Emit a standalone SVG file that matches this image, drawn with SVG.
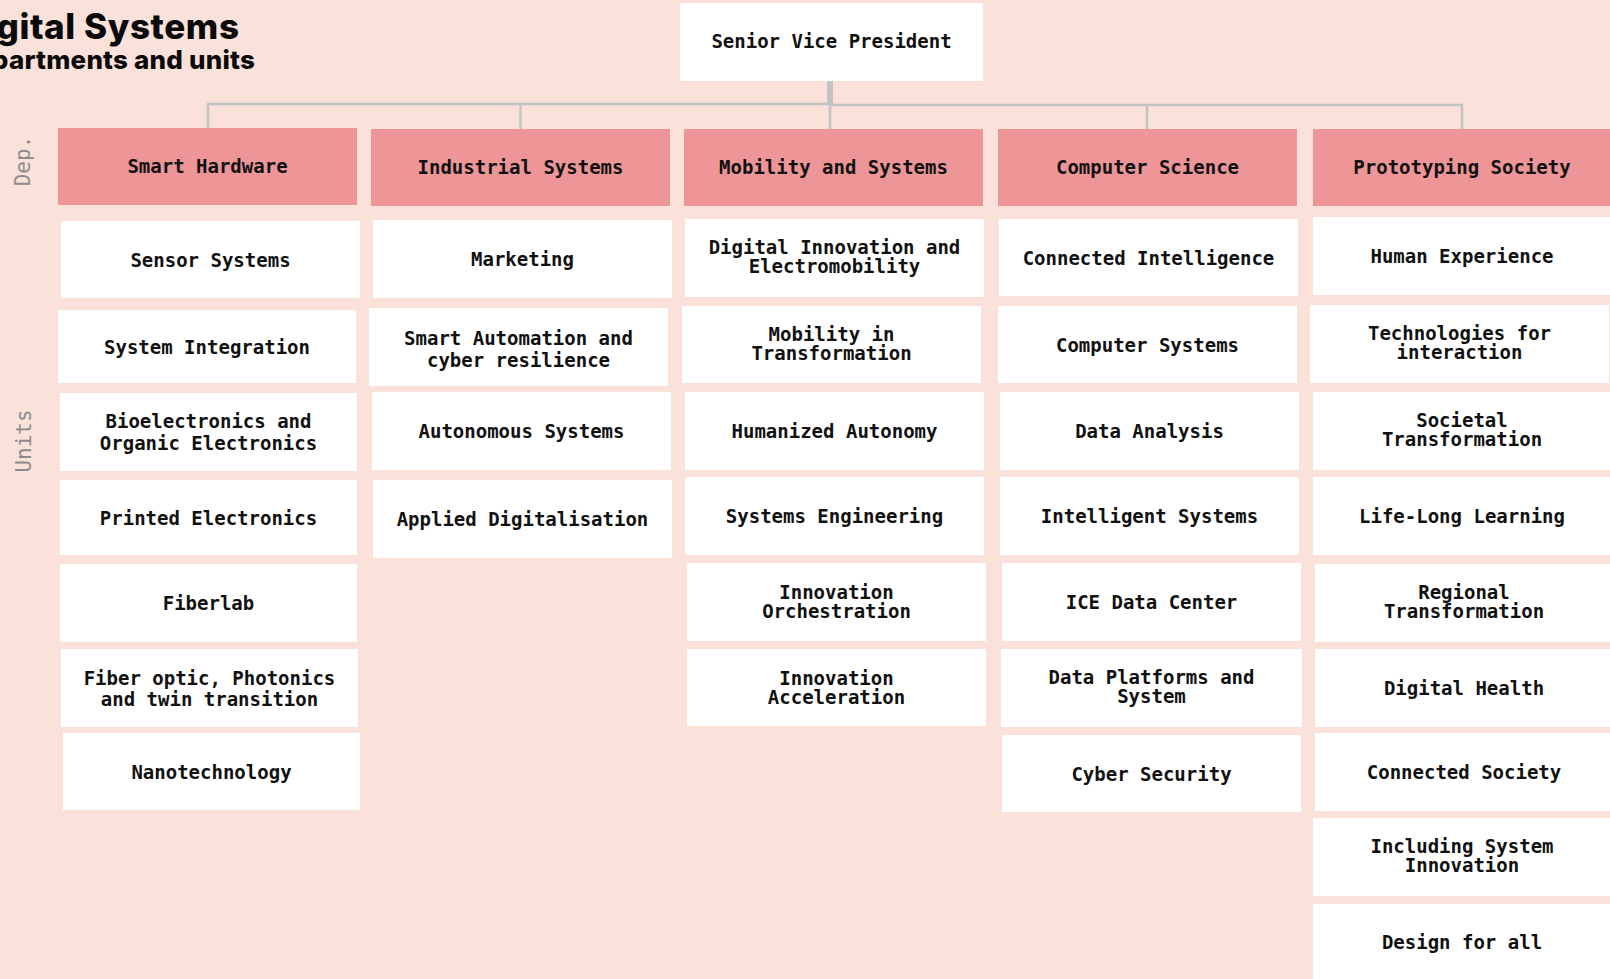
<svg xmlns="http://www.w3.org/2000/svg" width="1610" height="979" viewBox="0 0 1610 979">
<style>
.bg{fill:#fae1d9}
.dep{fill:#ee9598}
.unit{fill:#ffffff}
.lbl{font-family:"DejaVu Sans Mono","Liberation Mono",monospace;font-weight:bold;font-size:19px;fill:#111111;text-anchor:middle}
.side{font-family:"DejaVu Sans Mono","Liberation Mono",monospace;font-size:21px;fill:#8c8c8c;text-anchor:middle}
.title{font-family:Inter,"Liberation Sans",sans-serif;font-weight:800;fill:#0a0a0a}
.conn{fill:none;stroke:#c3c3c3;stroke-width:2.5;stroke-linejoin:round}
</style>
<rect class="bg" x="0" y="0" width="1610" height="979"/>
<g id="title">
<text class="title" x="-40" y="39" font-size="35" textLength="279" lengthAdjust="spacing">Digital Systems</text>
<text class="title" x="-43" y="68.5" font-size="26" textLength="298" lengthAdjust="spacing">Departments and units</text>
</g>
<g id="side-labels">
<text class="side" transform="translate(30,161) rotate(-90)">Dep.</text>
<text class="side" transform="translate(31,441) rotate(-90)">Units</text>
</g>
<g id="connectors">
<line x1="830" y1="81" x2="830" y2="105" stroke="#c3c3c3" stroke-width="6"/>
<path class="conn" d="M208,128 V104 H830"/>
<path class="conn" d="M830,105 H1462 V129"/>
<path class="conn" d="M520.5,129 V104"/>
<path class="conn" d="M830,104 V129"/>
<path class="conn" d="M1147,129 V105"/>
</g>
<g id="svp"><rect class="unit" x="680" y="3" width="303" height="78"/><text class="lbl" x="831.5" y="48">Senior Vice President</text></g>

<g id="dep-smart-hardware"><rect class="dep" x="58" y="128" width="299" height="77"/><text class="lbl" x="207.5" y="173">Smart Hardware</text></g>
<g id="dep-industrial-systems"><rect class="dep" x="371" y="129" width="299" height="77"/><text class="lbl" x="520.5" y="174">Industrial Systems</text></g>
<g id="dep-mobility-and-systems"><rect class="dep" x="684" y="129" width="299" height="77"/><text class="lbl" x="833.5" y="174">Mobility and Systems</text></g>
<g id="dep-computer-science"><rect class="dep" x="998" y="129" width="299" height="77"/><text class="lbl" x="1147.5" y="174">Computer Science</text></g>
<g id="dep-prototyping-society"><rect class="dep" x="1313" y="129" width="298" height="77"/><text class="lbl" x="1462" y="174">Prototyping Society</text></g>

<g id="u-sensor-systems"><rect class="unit" x="61" y="221" width="299" height="77"/><text class="lbl" x="210.5" y="266.5">Sensor Systems</text></g>
<g id="u-system-integration"><rect class="unit" x="58" y="310" width="298" height="73"/><text class="lbl" x="207" y="353.5">System Integration</text></g>
<g id="u-bioelectronics"><rect class="unit" x="60" y="393" width="297" height="78"/><text class="lbl" x="208.5" y="428"><tspan x="208.5">Bioelectronics and</tspan><tspan x="208.5" dy="21.5">Organic Electronics</tspan></text></g>
<g id="u-printed-electronics"><rect class="unit" x="60" y="480" width="297" height="75"/><text class="lbl" x="208.5" y="524.5">Printed Electronics</text></g>
<g id="u-fiberlab"><rect class="unit" x="60" y="564" width="297" height="78"/><text class="lbl" x="208.5" y="610">Fiberlab</text></g>
<g id="u-fiber-optic"><rect class="unit" x="61" y="649" width="297" height="78"/><text class="lbl" x="209.5" y="684.5"><tspan x="209.5">Fiber optic, Photonics</tspan><tspan x="209.5" dy="21.5">and twin transition</tspan></text></g>
<g id="u-nanotechnology"><rect class="unit" x="63" y="733" width="297" height="77"/><text class="lbl" x="211.5" y="778.5">Nanotechnology</text></g>

<g id="u-marketing"><rect class="unit" x="373" y="220" width="299" height="78"/><text class="lbl" x="522.5" y="265.5">Marketing</text></g>
<g id="u-smart-automation"><rect class="unit" x="369" y="308" width="299" height="78"/><text class="lbl" x="518.5" y="345"><tspan x="518.5">Smart Automation and</tspan><tspan x="518.5" dy="21.5">cyber resilience</tspan></text></g>
<g id="u-autonomous-systems"><rect class="unit" x="372" y="392" width="299" height="78"/><text class="lbl" x="521.5" y="437.5">Autonomous Systems</text></g>
<g id="u-applied-digitalisation"><rect class="unit" x="373" y="480" width="299" height="78"/><text class="lbl" x="522.5" y="525.5">Applied Digitalisation</text></g>

<g id="u-digital-innovation"><rect class="unit" x="685" y="219" width="299" height="78"/><text class="lbl" x="834.5" y="254"><tspan x="834.5">Digital Innovation and</tspan><tspan x="834.5" dy="19">Electromobility</tspan></text></g>
<g id="u-mobility-in-transformation"><rect class="unit" x="682" y="306" width="299" height="77"/><text class="lbl" x="831.5" y="341"><tspan x="831.5">Mobility in</tspan><tspan x="831.5" dy="19">Transformation</tspan></text></g>
<g id="u-humanized-autonomy"><rect class="unit" x="685" y="392" width="299" height="78"/><text class="lbl" x="834.5" y="437.5">Humanized Autonomy</text></g>
<g id="u-systems-engineering"><rect class="unit" x="685" y="477" width="299" height="78"/><text class="lbl" x="834.5" y="522.5">Systems Engineering</text></g>
<g id="u-innovation-orchestration"><rect class="unit" x="687" y="563" width="299" height="78"/><text class="lbl" x="836.5" y="598.5"><tspan x="836.5">Innovation</tspan><tspan x="836.5" dy="19">Orchestration</tspan></text></g>
<g id="u-innovation-acceleration"><rect class="unit" x="687" y="649" width="299" height="77"/><text class="lbl" x="836.5" y="685"><tspan x="836.5">Innovation</tspan><tspan x="836.5" dy="19">Acceleration</tspan></text></g>

<g id="u-connected-intelligence"><rect class="unit" x="999" y="219" width="299" height="77"/><text class="lbl" x="1148.5" y="264.5">Connected Intelligence</text></g>
<g id="u-computer-systems"><rect class="unit" x="998" y="306" width="299" height="77"/><text class="lbl" x="1147.5" y="351.5">Computer Systems</text></g>
<g id="u-data-analysis"><rect class="unit" x="1000" y="392" width="299" height="78"/><text class="lbl" x="1149.5" y="437.5">Data Analysis</text></g>
<g id="u-intelligent-systems"><rect class="unit" x="1000" y="477" width="299" height="78"/><text class="lbl" x="1149.5" y="522.5">Intelligent Systems</text></g>
<g id="u-ice-data-center"><rect class="unit" x="1002" y="563" width="299" height="78"/><text class="lbl" x="1151.5" y="608.5">ICE Data Center</text></g>
<g id="u-data-platforms"><rect class="unit" x="1001" y="649" width="301" height="78"/><text class="lbl" x="1151.5" y="684"><tspan x="1151.5">Data Platforms and</tspan><tspan x="1151.5" dy="19">System</tspan></text></g>
<g id="u-cyber-security"><rect class="unit" x="1002" y="735" width="299" height="77"/><text class="lbl" x="1151.5" y="780.5">Cyber Security</text></g>

<g id="u-human-experience"><rect class="unit" x="1313" y="217" width="298" height="78"/><text class="lbl" x="1462" y="262.5">Human Experience</text></g>
<g id="u-technologies-for-interaction"><rect class="unit" x="1310" y="305" width="299" height="78"/><text class="lbl" x="1459.5" y="340"><tspan x="1459.5">Technologies for</tspan><tspan x="1459.5" dy="19">interaction</tspan></text></g>
<g id="u-societal-transformation"><rect class="unit" x="1313" y="392" width="298" height="78"/><text class="lbl" x="1462" y="427"><tspan x="1462">Societal</tspan><tspan x="1462" dy="19">Transformation</tspan></text></g>
<g id="u-life-long-learning"><rect class="unit" x="1313" y="477" width="298" height="78"/><text class="lbl" x="1462" y="522.5">Life-Long Learning</text></g>
<g id="u-regional-transformation"><rect class="unit" x="1315" y="564" width="298" height="78"/><text class="lbl" x="1464" y="599"><tspan x="1464">Regional</tspan><tspan x="1464" dy="19">Transformation</tspan></text></g>
<g id="u-digital-health"><rect class="unit" x="1315" y="649" width="298" height="78"/><text class="lbl" x="1464" y="694.5">Digital Health</text></g>
<g id="u-connected-society"><rect class="unit" x="1315" y="733" width="298" height="78"/><text class="lbl" x="1464" y="778.5">Connected Society</text></g>
<g id="u-including-system-innovation"><rect class="unit" x="1313" y="818" width="298" height="78"/><text class="lbl" x="1462" y="853"><tspan x="1462">Including System</tspan><tspan x="1462" dy="19">Innovation</tspan></text></g>
<g id="u-design-for-all"><rect class="unit" x="1313" y="904" width="298" height="77"/><text class="lbl" x="1462" y="949">Design for all</text></g>
</svg>
